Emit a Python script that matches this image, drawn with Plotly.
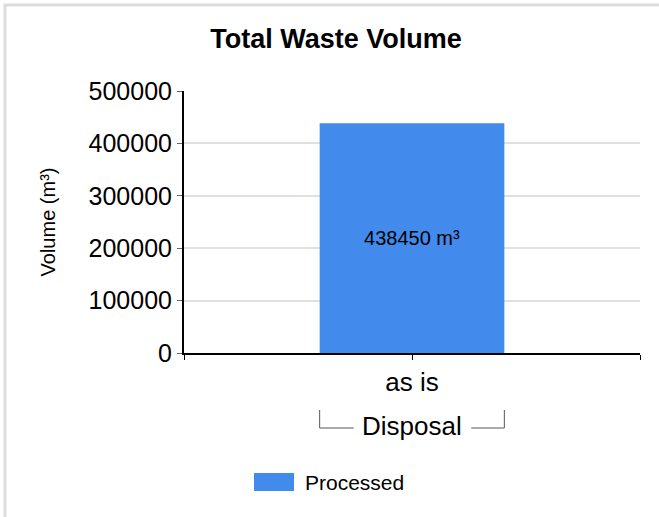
import plotly.graph_objects as go

categories = ["as is"]
group_label = "Disposal"
series_name = "Processed"
values = [438450]
unit = "m³"
y_ticks = [0, 100000, 200000, 300000, 400000, 500000]

W, H = 659, 517
L, R, T, B = 184, 19, 91, 164
pw, ph = W - L - R, H - T - B

def px_x(px):
    return (px - L) / pw

def px_y(py):
    return (H - B - py) / ph

bar_w = 0.405
xpos = list(range(len(categories)))
bar_color = "#428bed"
font = "Liberation Sans, Arial"

fig = go.Figure()
fig.add_trace(go.Bar(
    x=xpos, y=values, width=bar_w, name=series_name,
    marker=dict(color=bar_color, line=dict(width=0)),
    text=[f"{v} {unit}" for v in values], textposition="inside",
    insidetextanchor="middle", textangle=0,
    textfont=dict(family=font, size=20, color="black"),
    showlegend=False, hoverinfo="skip",
))

fig.update_layout(
    width=W, height=H,
    margin=dict(l=L, r=R, t=T, b=B, autoexpand=False),
    paper_bgcolor="white", plot_bgcolor="white",
    font=dict(family=font, color="black"),
    title=dict(text="<b>Total Waste Volume</b>", x=(209 + 463) / 2 / W, xanchor="center",
               y=1 - 39 / H, yanchor="middle", font=dict(size=27, family=font)),
    showlegend=False,
    xaxis=dict(range=[-0.5, len(categories) - 0.5], tickvals=[-0.5] + xpos + [len(categories) - 0.5],
               ticktext=[""] + categories + [""], ticks="outside", ticklen=5, tickcolor="black",
               showline=True, linecolor="black", linewidth=2, showgrid=False, zeroline=False,
               tickfont=dict(size=26, family=font)),
    yaxis=dict(range=[0, 500000], tickvals=y_ticks, tickformat="d", ticks="outside", ticklen=5,
               tickcolor="#666", showline=True, linecolor="black", linewidth=2,
               showgrid=True, gridcolor="#e0e0e0", gridwidth=2, zeroline=False,
               tickfont=dict(size=25, family=font),
               title=dict(text="Volume (m³)", font=dict(size=20, family=font), standoff=28)),
)

# group bracket
xl, xr = -bar_w / 2, bar_w / 2
y_top, y_bot = px_y(410), px_y(428)
lc = dict(color="#555", width=1)
for x0, y0, x1, y1 in [
    (xl, y_top, xl, y_bot), (xl, y_bot, -0.128, y_bot),
    (0.130, y_bot, xr, y_bot), (xr, y_bot, xr, y_top),
]:
    fig.add_shape(type="line", xref="x", yref="paper", x0=x0, y0=y0, x1=x1, y1=y1, line=lc)
fig.add_annotation(text=group_label, xref="x", yref="paper", x=0, y=px_y(426),
                   showarrow=False, font=dict(size=26, family=font), yanchor="middle")

# legend (swatch + label)
fig.add_shape(type="rect", xref="paper", yref="paper", x0=px_x(254), x1=px_x(294),
              y0=px_y(491), y1=px_y(473), fillcolor=bar_color, line=dict(width=0))
fig.add_annotation(text=series_name, xref="paper", yref="paper", x=px_x(303), y=px_y(482),
                   xanchor="left", yanchor="middle", showarrow=False,
                   font=dict(size=21, family=font))

# outer frame
fig.add_shape(type="rect", xref="paper", yref="paper", x0=px_x(5), x1=px_x(W + 20),
              y0=px_y(H + 20), y1=px_y(5), line=dict(color="#dcdcdc", width=3), layer="below")

fig.write_html("out.html", config={"displayModeBar": False},
               post_script="document.body.style.margin='0';")
